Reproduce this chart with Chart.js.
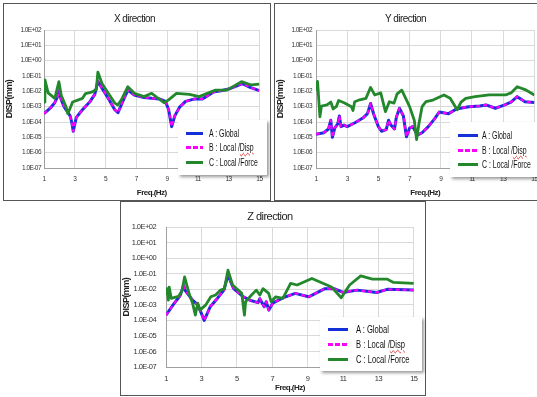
<!DOCTYPE html>
<html>
<head>
<meta charset="utf-8">
<script src="https://cdn.jsdelivr.net/npm/chart.js@4.4.0/dist/chart.umd.min.js"></script>
<style>
  body { margin: 0; background: #fff; width: 537px; height: 397px; overflow: hidden; position: relative; }
  .panel { position: absolute; border: 1px solid #555; background: #fff; overflow: visible; }
  .panel canvas { position: absolute; left: 0; top: 0; }
  .legend { position: absolute; background: #fff; box-shadow: 2px 2px 3px rgba(0,0,0,0.4); color: #111;
            font-family: 'Liberation Sans', Arial, sans-serif; }
  .row { position: absolute; left: 0; width: 100%; height: 0; }
  .sw { position: absolute; top: -1.5px; height: 3px; }
  .txt { position: absolute; top: -7px; line-height: 14px; white-space: nowrap; transform-origin: left center; }
  .spell { text-decoration: underline wavy #e02020; text-decoration-thickness: 1px; }
</style>
</head>
<body>
<div class="panel" id="p1" style="left:3px;top:3px;width:266px;height:196px;"><canvas id="cx" width="266" height="196"></canvas></div>
<div class="panel" id="p2" style="left:274px;top:3px;width:270px;height:196px;"><canvas id="cy" width="270" height="196"></canvas></div>
<div class="panel" id="p3" style="left:120px;top:201px;width:304px;height:193px;"><canvas id="cz" width="304" height="193"></canvas></div>
<script>
// axis ticks
const freqTicks = [1, 3, 5, 7, 9, 11, 13, 15];
const dispTicks = [1e-7, 1e-6, 1e-5, 1e-4, 1e-3, 1e-2, 1e-1, 1, 10, 100];
const dispTickLabels = ['1.0E-07', '1.0E-06', '1.0E-05', '1.0E-04', '1.0E-03', '1.0E-02', '1.0E-01', '1.0E+00', '1.0E+01', '1.0E+02'];
const seriesNames = ['A : Global', 'B : Local /Disp', 'C : Local /Force'];

// X direction (A and B coincide)
const xFreqAB = [1.0, 1.4, 1.7, 1.9, 2.0, 2.1, 2.3, 2.7, 2.8, 2.9, 3.1, 3.5, 4.0, 4.3, 4.5, 4.77, 5.2, 5.6, 5.81, 6.1,
  6.45, 6.87, 7.5, 8.0, 8.5, 8.9, 9.1, 9.3, 9.5, 9.8, 10.2, 10.8, 11.3, 12.0, 12.5, 13.0, 13.5, 13.9, 14.4, 15.0];
const xDispAB = [3.5e-4, 7.9e-4, 1.8e-3, 5e-3, 1.1e-2, 3.2e-3, 1e-3, 2.5e-4, 1e-4, 2.5e-5, 2e-4, 6.3e-4, 2.2e-3, 6.3e-3, 4.5e-2, 1.6e-2, 3.2e-3, 6.3e-4, 4e-4, 2e-3,
  1.2e-2, 5.8e-3, 4e-3, 3.5e-3, 3.2e-3, 2.2e-3, 6.3e-4, 5e-5, 2.5e-4, 8.9e-4, 2.2e-3, 3.2e-3, 3.2e-3, 8.9e-3, 1.1e-2, 1.4e-2, 2.2e-2, 3.2e-2, 1.8e-2, 1.1e-2];
const xFreqC = [1.0, 1.06, 1.27, 1.7, 1.97, 2.12, 2.43, 2.55, 2.86, 3.5, 3.7, 4.1, 4.4, 4.5, 4.77, 5.18, 5.6, 5.8, 6.02, 6.45,
  6.87, 7.5, 8.0, 8.8, 9.1, 9.61, 10.45, 11.09, 12.15, 12.88, 13.84, 14.47, 15.0];
const xDispC = [2e-3, 5.6e-2, 7.9e-3, 3.5e-3, 4.3e-2, 5.6e-3, 1e-3, 3.5e-4, 2e-3, 3.5e-3, 7.1e-3, 8.9e-3, 1.3e-2, 1.8e-1, 3.2e-2, 7.4e-3, 1.7e-3, 1.3e-3, 2.7e-3, 2e-2,
  7.4e-3, 4.5e-3, 7.4e-3, 1.8e-3, 2.8e-3, 7.4e-3, 6.3e-3, 4.5e-3, 1.2e-2, 1.2e-2, 4.3e-2, 2.6e-2, 3e-2];

// Y direction
const yFreqAB = [1.0, 1.5, 1.8, 1.95, 2.05, 2.2, 2.4, 2.5, 2.6, 2.8, 3.0, 3.5, 4.0, 4.3, 4.5, 4.7, 5.0, 5.2, 5.5, 5.65,
  5.8, 6.03, 6.15, 6.35, 6.6, 6.8, 7.0, 7.2, 7.5, 7.8, 8.2, 8.6, 8.9, 9.5, 10.0, 10.8, 11.5, 11.9, 12.5, 13.1, 13.5, 13.9, 14.4, 15.0];
const yDispAB = [1.6e-5, 2e-5, 3.5e-5, 1.3e-4, 1e-5, 4e-5, 7.9e-5, 2.5e-4, 5e-5, 6.3e-5, 5e-5, 8.9e-5, 1.8e-4, 3.5e-4, 1.6e-3, 3.2e-4, 5e-5, 2.5e-5, 3.2e-5, 1.3e-4,
  6.3e-5, 3.5e-5, 2e-4, 7.9e-4, 2.5e-4, 1.1e-5, 4e-5, 5e-5, 1.4e-5, 2e-5, 5e-5, 1.6e-4, 4.5e-4, 3.5e-4, 7.1e-4, 1e-3, 1.1e-3, 1.3e-3, 7.9e-4, 1.3e-3, 2e-3, 4.5e-3, 2.1e-3, 1.9e-3];
const yFreqC = [1.0, 1.1, 1.25, 1.35, 1.7, 1.95, 2.1, 2.3, 2.45, 2.8, 3.27, 3.37, 3.48, 3.8, 4.2, 4.5, 4.76, 5.15, 5.45, 5.7,
  6.0, 6.2, 6.5, 7.0, 7.3, 7.45, 7.6, 7.8, 8.05, 8.5, 9.2, 9.6, 10.05, 10.3, 10.6, 11.2, 12.1, 13.15, 13.5, 13.9, 14.4, 15.0];
const yDispC = [1e-2, 4.5e-2, 2.2e-4, 1.1e-3, 1.3e-3, 2e-3, 7.1e-4, 1e-3, 2.5e-3, 1.8e-3, 1e-3, 5.6e-4, 2.1e-3, 2.8e-3, 3.5e-3, 1.8e-2, 5.8e-3, 7.9e-3, 4.7e-4, 2.1e-3,
  1.7e-3, 6.8e-3, 1.2e-2, 1e-3, 1.3e-4, 7.1e-6, 7.9e-5, 1e-3, 2.1e-3, 2.7e-3, 5.8e-3, 3.5e-3, 6.3e-4, 2e-3, 3.5e-3, 4.5e-3, 5.8e-3, 5.8e-3, 7.9e-3, 2e-2, 1.3e-2, 5.8e-3];

// Z direction
const zFreqAB = [1.0, 1.4, 1.8, 2.0, 2.1, 2.5, 2.8, 3.16, 3.5, 3.9, 4.27, 4.5, 4.82, 5.37, 5.74, 6.2, 6.3, 6.55, 6.66, 6.81,
  7.03, 7.6, 8.3, 9.06, 9.98, 10.5, 11.0, 11.8, 12.9, 13.5, 15.0];
const zDispAB = [2.2e-4, 1e-3, 4e-3, 1.8e-2, 7.9e-3, 2e-3, 1e-3, 1e-4, 7.6e-4, 2.6e-3, 8.9e-3, 8.3e-2, 1.1e-2, 3.3e-3, 2e-3, 1.4e-3, 2.5e-3, 7.6e-4, 1.6e-3, 4.6e-4,
  1.3e-3, 2.8e-3, 5.5e-3, 3.3e-3, 1.1e-2, 1.1e-2, 6.3e-3, 8.9e-3, 6.3e-3, 1e-2, 8.9e-3];
const zFreqC = [1.0, 1.07, 1.13, 1.18, 1.3, 1.7, 1.9, 2.05, 2.33, 2.5, 2.66, 2.79, 2.92, 3.25, 3.53, 3.8, 4.08, 4.3, 4.5, 4.76,
  5.28, 5.43, 5.5, 5.83, 6.1, 6.3, 6.48, 6.8, 6.94, 7.2, 7.6, 8.04, 8.41, 9.24, 10.35, 10.9, 11.37, 12.0, 12.66, 13.48, 13.85, 15.0];
const zDispC = [4.3e-3, 1.1e-2, 2e-3, 1.4e-2, 2.6e-3, 3.5e-3, 7.9e-3, 6.3e-2, 4.3e-3, 1.3e-3, 2.2e-4, 1.3e-3, 4.6e-4, 1e-3, 3.3e-3, 4.3e-3, 8.9e-3, 1.1e-2, 1.7e-1, 1.9e-2,
  5.5e-3, 2.2e-4, 1.6e-3, 4.3e-3, 8.9e-3, 4.3e-3, 1.1e-2, 5.5e-3, 1.6e-3, 3.3e-3, 2.6e-3, 2.4e-2, 1.9e-2, 5e-2, 1.4e-2, 2.9e-3, 1.9e-2, 7.4e-2, 4.6e-2, 4.6e-2, 2.8e-2, 2.4e-2];

const FONT = "'Liberation Sans', Arial, sans-serif";
const BLUE = '#1530d6', MAGENTA = '#ff00ff', GREEN = '#23882c';

function pts(f, d) {
  return f.map((x, i) => ({ x: x, y: d[i] }));
}

// squeeze canvas text a little, the source uses a condensed face
const tightText = {
  id: 'tightText',
  beforeDraw(chart) { chart.ctx.letterSpacing = '-0.55px'; }
};

function drawPanel(id, title, fAB, dAB, fC, dC, L) {
  return new Chart(document.getElementById(id), {
    type: 'line',
    data: {
      datasets: [
        { label: seriesNames[0], data: pts(fAB, dAB), borderColor: BLUE, borderWidth: 3, order: 2 },
        { label: seriesNames[1], data: pts(fAB, dAB), borderColor: MAGENTA, borderWidth: 2.2, borderDash: [4, 3], order: 1 },
        { label: seriesNames[2], data: pts(fC, dC), borderColor: GREEN, borderWidth: 2.8, order: 0 }
      ]
    },
    plugins: [tightText],
    options: {
      responsive: false,
      animation: false,
      events: [],
      elements: { point: { radius: 0 }, line: { tension: 0, borderJoinStyle: 'round' } },
      layout: { padding: { left: 0, right: L.pr, top: 0, bottom: 0 } },
      plugins: {
        legend: { display: false },
        tooltip: { enabled: false },
        title: { display: true, text: title, color: '#222',
                 font: { family: FONT, size: L.ts, weight: 'normal' },
                 padding: { top: L.tt, bottom: L.tb } }
      },
      scales: {
        x: {
          type: 'linear', min: 1, max: 15,
          afterBuildTicks: s => { s.ticks = freqTicks.map(v => ({ value: v })); },
          afterFit: s => { s.height = L.xh; },
          grid: { color: '#d9d9d9', drawTicks: false },
          border: { color: '#a0a0a0' },
          ticks: { color: '#333', padding: 7, maxRotation: 0, font: { family: FONT, size: L.fs } },
          title: { display: true, text: 'Freq.(Hz)', color: '#222', padding: { top: 0, bottom: 2 },
                   font: { family: FONT, size: 8, weight: 'bold' } }
        },
        y: {
          type: 'logarithmic', min: 1e-7, max: 100,
          afterBuildTicks: s => { s.ticks = dispTicks.map(v => ({ value: v })); },
          afterFit: s => { s.width = L.yw; },
          grid: { color: '#d9d9d9', drawTicks: false },
          border: { color: '#a0a0a0' },
          ticks: { color: '#333', padding: L.yp, autoSkip: false, font: { family: FONT, size: L.fs },
                   callback: (v, i) => dispTickLabels[i] },
          title: { display: true, text: 'DISP(mm)', color: '#222', padding: { top: 0, bottom: 0 },
                   font: { family: FONT, size: 9, weight: 'bold' } }
        }
      }
    }
  });
}

function addLegend(panelId, L) {
  const box = document.createElement('div');
  box.className = 'legend';
  box.style.cssText += `left:${L.x}px;top:${L.y}px;width:${L.w}px;height:${L.h}px;`;
  const swatches = [
    `background:${BLUE}`,
    `background:repeating-linear-gradient(90deg, ${MAGENTA} 0 5px, transparent 5px 7px)`,
    `background:${GREEN}`
  ];
  seriesNames.forEach((name, i) => {
    const row = document.createElement('div');
    row.className = 'row';
    row.style.top = L.rows[i] + 'px';
    const sw = document.createElement('div');
    sw.className = 'sw';
    sw.style.cssText += `left:${L.sx}px;width:${L.sw}px;${swatches[i]}`;
    const tx = document.createElement('div');
    tx.className = 'txt';
    tx.style.cssText += `left:${L.tx}px;font-size:${L.fs}px;transform:scaleX(${L.sc});`;
    if (i === 1) {
      tx.innerHTML = 'B : Local /<span class="spell">Disp</span>';
    } else {
      tx.textContent = name;
    }
    row.appendChild(sw);
    row.appendChild(tx);
    box.appendChild(row);
  });
  document.getElementById(panelId).appendChild(box);
}

drawPanel('cx', 'X direction', xFreqAB, xDispAB, xFreqC, xDispC,
  { pr: 5, yw: 40, xh: 32, yp: 3, fs: 6.5, ts: 10, tt: 9, tb: 5 });
drawPanel('cy', 'Y direction', yFreqAB, yDispAB, yFreqC, yDispC,
  { pr: 9, yw: 41, xh: 32, yp: 4, fs: 6.5, ts: 10, tt: 9, tb: 5 });
drawPanel('cz', 'Z direction', zFreqAB, zDispAB, zFreqC, zDispC,
  { pr: 6, yw: 45, xh: 28, yp: 10, fs: 7.5, ts: 11, tt: 8, tb: 4 });

addLegend('p1', { x: 174, y: 116, w: 89, h: 55, rows: [13, 27, 42], sx: 8, sw: 17, tx: 31, fs: 10.5, sc: 0.66 });
addLegend('p2', { x: 175, y: 118, w: 95, h: 55, rows: [13, 28, 42], sx: 8, sw: 20, tx: 32, fs: 10.5, sc: 0.66 });
addLegend('p3', { x: 199, y: 115, w: 102, h: 54, rows: [12, 27, 42], sx: 8, sw: 20, tx: 36, fs: 11.5, sc: 0.66 });
</script>
</body>
</html>
